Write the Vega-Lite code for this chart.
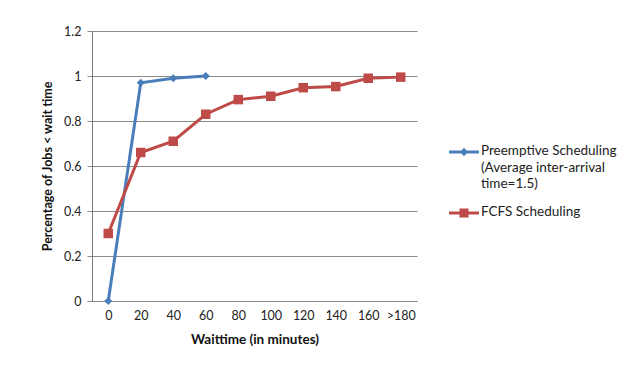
{
  "$schema": "https://vega.github.io/schema/vega-lite/v6.json",
  "width": 325,
  "height": 270,
  "autosize": {"type": "none"},
  "padding": {"left": 92, "top": 31, "right": 217, "bottom": 86},
  "background": "white",
  "config": {
    "font": "Lato",
    "view": {"stroke": null},
    "axis": {"labelFont": "Lato", "titleFont": "Lato", "labelColor": "#222", "titleColor": "#111"}
  },
  "data": {
    "values": [
      {"wait": "0", "series": "Preemptive Scheduling (Average inter-arrival time=1.5)", "pct": 0},
      {"wait": "20", "series": "Preemptive Scheduling (Average inter-arrival time=1.5)", "pct": 0.97},
      {"wait": "40", "series": "Preemptive Scheduling (Average inter-arrival time=1.5)", "pct": 0.99},
      {"wait": "60", "series": "Preemptive Scheduling (Average inter-arrival time=1.5)", "pct": 1.0},
      {"wait": "0", "series": "FCFS Scheduling", "pct": 0.3},
      {"wait": "20", "series": "FCFS Scheduling", "pct": 0.66},
      {"wait": "40", "series": "FCFS Scheduling", "pct": 0.71},
      {"wait": "60", "series": "FCFS Scheduling", "pct": 0.83},
      {"wait": "80", "series": "FCFS Scheduling", "pct": 0.895},
      {"wait": "100", "series": "FCFS Scheduling", "pct": 0.91},
      {"wait": "120", "series": "FCFS Scheduling", "pct": 0.948},
      {"wait": "140", "series": "FCFS Scheduling", "pct": 0.953},
      {"wait": "160", "series": "FCFS Scheduling", "pct": 0.99},
      {"wait": ">180", "series": "FCFS Scheduling", "pct": 0.995}
    ]
  },
  "encoding": {
    "x": {
      "field": "wait",
      "type": "ordinal",
      "sort": ["0", "20", "40", "60", "80", "100", "120", "140", "160", ">180"],
      "scale": {"type": "point", "padding": 0.5},
      "axis": {
        "title": "Waittime (in minutes)",
        "titleFontSize": 13.5,
        "titleFontWeight": "bold",
        "titlePadding": 11,
        "labelFontSize": 12.5,
        "labelAngle": 0,
        "labelPadding": 8,
        "ticks": false,
        "domain": true,
        "domainColor": "#888",
        "domainWidth": 1,
        "grid": false
      }
    },
    "y": {
      "field": "pct",
      "type": "quantitative",
      "scale": {"domain": [0, 1.2], "nice": false, "zero": true},
      "axis": {
        "title": "Percentage of Jobs < wait time",
        "titleFontSize": 12.5,
        "titleFontWeight": "bold",
        "titlePadding": 9,
        "values": [0, 0.2, 0.4, 0.6, 0.8, 1, 1.2],
        "format": "~g",
        "labelFontSize": 12.5,
        "labelPadding": 6,
        "tickSize": 5,
        "tickColor": "#888",
        "domainColor": "#777",
        "domainWidth": 1,
        "grid": true,
        "gridColor": "#8a8a8a",
        "gridWidth": 1
      }
    },
    "color": {
      "field": "series",
      "type": "nominal",
      "scale": {
        "domain": ["Preemptive Scheduling (Average inter-arrival time=1.5)", "FCFS Scheduling"],
        "range": ["#4a7ebb", "#be4b48"]
      },
      "legend": {
        "orient": "none",
        "legendX": 357,
        "legendY": 106,
        "title": null,
        "symbolSize": 900,
        "labelFontSize": 13.5,
        "labelColor": "#222",
        "labelOffset": 2,
        "labelBaseline": "top",
        "labelLimit": 300,
        "rowPadding": 7,
        "labelExpr": "indexof(datum.label, 'Preemptive') == 0 ? ['Preemptive Scheduling', '(Average inter-arrival', 'time=1.5)'] : datum.label",
        "encode": {
          "symbols": {
            "update": {
              "shape": {"signal": "datum.value == 'FCFS Scheduling' ? 'M-1,-0.1H1V0.1H-1Z M-0.3,-0.3H0.3V0.3H-0.3Z' : 'M-1,-0.1H1V0.1H-1Z M0,-0.28L0.28,0L0,0.28L-0.28,0Z'"},
              "fill": {"signal": "datum.value == 'FCFS Scheduling' ? '#be4b48' : '#4a7ebb'"},
              "strokeWidth": {"value": 0},
              "fillOpacity": {"value": 1}
            }
          },
          "labels": {
            "update": {
              "lineHeight": {"value": 16.5},
              "dy": {"value": -8}
            }
          }
        }
      }
    }
  },
  "layer": [
    {
      "mark": {"type": "line", "strokeWidth": 3}
    },
    {
      "transform": [{"filter": "indexof(datum.series, 'Preemptive') == 0"}],
      "mark": {"type": "point", "filled": true, "opacity": 1, "shape": "diamond", "size": 64}
    },
    {
      "transform": [{"filter": "datum.series == 'FCFS Scheduling'"}],
      "mark": {"type": "point", "filled": true, "opacity": 1, "shape": "square", "size": 90}
    }
  ]
}
